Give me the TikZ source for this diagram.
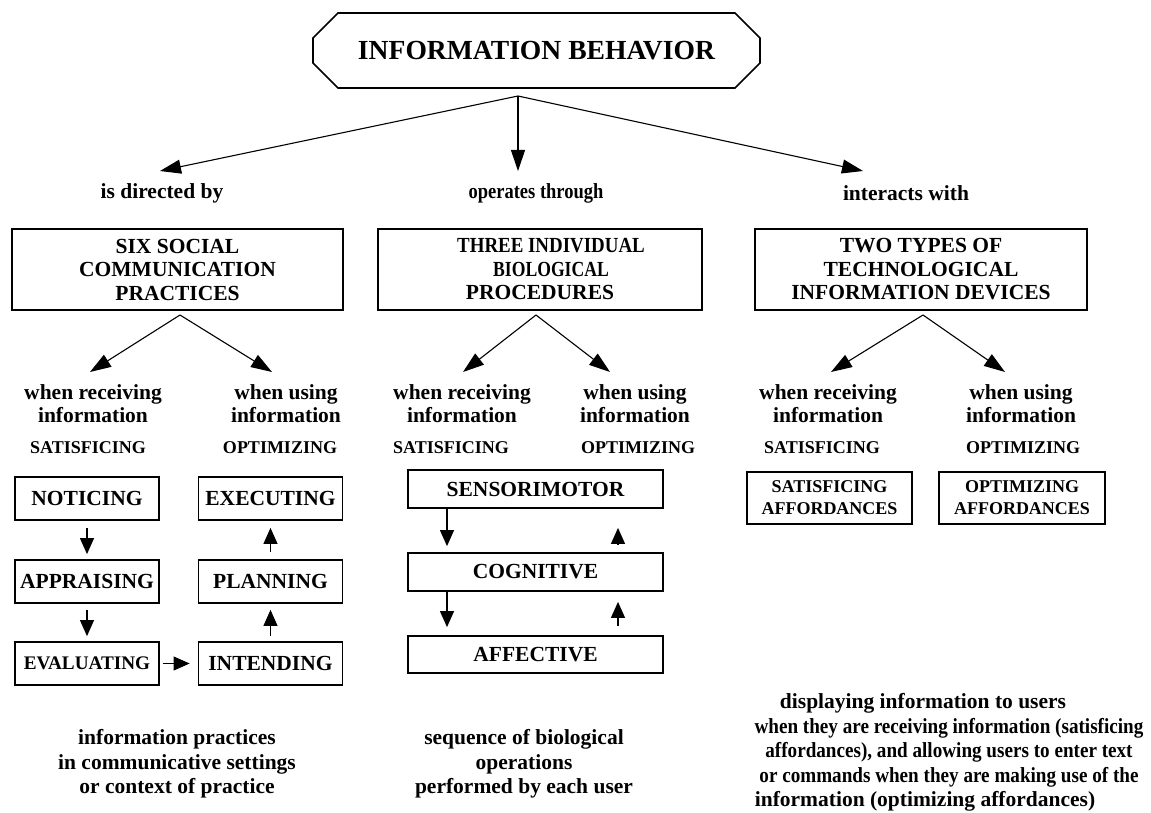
\documentclass[tikz,border=0pt]{standalone}
\usepackage{graphicx}
\usepackage{fontspec}
\setmainfont{Liberation Serif}
\usetikzlibrary{arrows.meta}
\newcommand{\hsq}[2]{\scalebox{#1}[1]{#2}}
\begin{document}
\begin{tikzpicture}[x=1pt,y=-1pt,
  box/.style={draw,line width=1.8pt,inner sep=0pt,align=center,font=\bfseries\fontsize{21.5}{23.5}\selectfont},
  lab/.style={inner sep=0pt,align=center,font=\bfseries\fontsize{21.5}{23}\selectfont},
  caps/.style={inner sep=0pt,font=\bfseries\fontsize{18}{20}\selectfont},
  affbox/.style={draw,line width=1.8pt,inner sep=0pt,align=center,minimum width=165pt,minimum height=52pt,font=\bfseries\fontsize{18}{22}\selectfont},
  lbox/.style={box,minimum width=144pt,minimum height=43pt},
  mbox/.style={box,minimum width=255pt,minimum height=38pt},
  para/.style={inner sep=0pt,align=center,font=\bfseries\fontsize{21.5}{24.5}\selectfont},
  arr/.style={-{Triangle[length=21pt,width=14pt]},line width=1.1pt},
  sarr/.style={-{Triangle[length=16pt,width=14pt]},line width=1.1pt}]
\useasboundingbox (0,0) rectangle (1151,813);

% title
\node[inner sep=0pt,font=\bfseries\fontsize{27.6}{30}\selectfont] (title) at (536.5,51) {INFORMATION BEHAVIOR};
\draw[line width=1.6pt] (313,38) -- (338,13) -- (735,13) -- (760,38) -- (760,63) -- (735,88) -- (338,88) -- (313,63) -- cycle;

% first level
\coordinate (ap) at (518,96);
\coordinate (t1) at (160,171);
\coordinate (t2) at (518,171);
\coordinate (t3) at (863,171);
\draw[arr] (ap) -- (t1);
\draw[arr] (ap) -- (t2);
\draw[arr] (ap) -- (t3);
\node[lab] (l1) at (162,193) {is directed by};
\node[lab] (l2) at (536,193) {\hsq{0.86}{operates through}};
\node[lab] (l3) at (906,193) {interacts with};

% boxes
\node[box,minimum width=331pt,minimum height=81pt] (b1) at (177.5,269.5) {SIX SOCIAL\\COMMUNICATION\\PRACTICES};
\node[box,minimum width=324pt,minimum height=81pt] (b2) at (540,269.5) {\hspace*{22pt}\hsq{0.88}{THREE INDIVIDUAL}\\\hspace*{22pt}\hsq{0.82}{BIOLOGICAL}\\PROCEDURES};
\node[box,minimum width=332pt,minimum height=81pt] (b3) at (921,269.5) {TWO TYPES OF\\TECHNOLOGICAL\\INFORMATION DEVICES};

% second-level arrows
\coordinate (a1) at (180,315);
\coordinate (a2) at (536,315);
\coordinate (a3) at (923,315);
\coordinate (r1a) at (90,372);
\coordinate (r1b) at (272,372);
\coordinate (r2a) at (463,372);
\coordinate (r2b) at (610,372);
\coordinate (r3a) at (831,372);
\coordinate (r3b) at (1005,372);
\draw[arr] (a1) -- (r1a);
\draw[arr] (a1) -- (r1b);
\draw[arr] (a2) -- (r2a);
\draw[arr] (a2) -- (r2b);
\draw[arr] (a3) -- (r3a);
\draw[arr] (a3) -- (r3b);

% second-level labels
\node[lab] (w1a) at (93,403.5) {when receiving\\information};
\node[lab] (w1b) at (286,403.5) {when using\\information};
\node[lab] (w2a) at (462,403.5) {when receiving\\information};
\node[lab] (w2b) at (635,403.5) {when using\\information};
\node[lab] (w3a) at (828,404) {when receiving\\information};
\node[lab] (w3b) at (1021,404) {when using\\information};
\node[caps] (s1a) at (88,448) {SATISFICING};
\node[caps] (s1b) at (280,448) {OPTIMIZING};
\node[caps] (s2a) at (451,448) {SATISFICING};
\node[caps] (s2b) at (638,448) {OPTIMIZING};
\node[caps] (s3a) at (822,448) {SATISFICING};
\node[caps] (s3b) at (1023,448) {OPTIMIZING};

% left column
\node[lbox] (notice) at (87,498.5) {NOTICING};
\node[lbox] (apprais) at (87,581.5) {APPRAISING};
\node[lbox] (evalu) at (87,663.5) {\fontsize{19.2}{21}\selectfont EVALUATING};
\node[lbox] (exec) at (270.5,498.5) {EXECUTING};
\node[lbox] (plan) at (270.5,581.5) {PLANNING};
\node[lbox] (intend) at (270.5,663.5) {INTENDING};
\draw[sarr,shorten <=7pt,shorten >=5pt] (notice) -- (apprais);
\draw[sarr,shorten <=6pt,shorten >=5pt] (apprais) -- (evalu);
\draw[sarr,shorten <=3pt,shorten >=8pt] (evalu) -- (intend);
\draw[sarr,shorten <=5pt,shorten >=6pt] (intend) -- (plan);
\draw[sarr,shorten <=7pt,shorten >=7pt] (plan) -- (exec);

% middle column
\node[mbox] (sens) at (535.5,489) {SENSORIMOTOR};
\node[mbox] (cog) at (535.5,572) {COGNITIVE};
\node[mbox,minimum height=37pt] (aff) at (535.5,654.5) {AFFECTIVE};
\coordinate (cL) at (447,0);
\coordinate (cR) at (618,0);
\draw[sarr,shorten >=6pt] (sens.south -| cL) -- (cog.north -| cL);
\draw[sarr,shorten <=8pt,shorten >=19pt] (cog.north -| cR) -- (sens.south -| cR);
\draw[sarr,shorten >=8pt] (cog.south -| cL) -- (aff.north -| cL);
\draw[sarr,shorten <=9pt,shorten >=10pt] (aff.north -| cR) -- (cog.south -| cR);

% right column
\node[affbox] (sataff) at (829.5,498) {SATISFICING\\AFFORDANCES};
\node[affbox,minimum width=166pt] (optaff) at (1022,498) {OPTIMIZING\\AFFORDANCES};

% bottom descriptions
\node[para] (d1) at (177,764) {information practices\\in communicative settings\\or context of practice};
\node[para] (d2) at (524,764) {sequence of biological\\operations\\performed by each user};
\node[para] (d3) at (949,752.5) {\hspace*{-52pt}displaying information to users\\\hsq{0.89}{when they are receiving information (satisficing}\\\hsq{0.89}{affordances), and allowing users to enter text}\\\hsq{0.89}{or commands when they are making use of the}\\\hspace*{-48pt}information (optimizing affordances)};
\end{tikzpicture}
\end{document}
